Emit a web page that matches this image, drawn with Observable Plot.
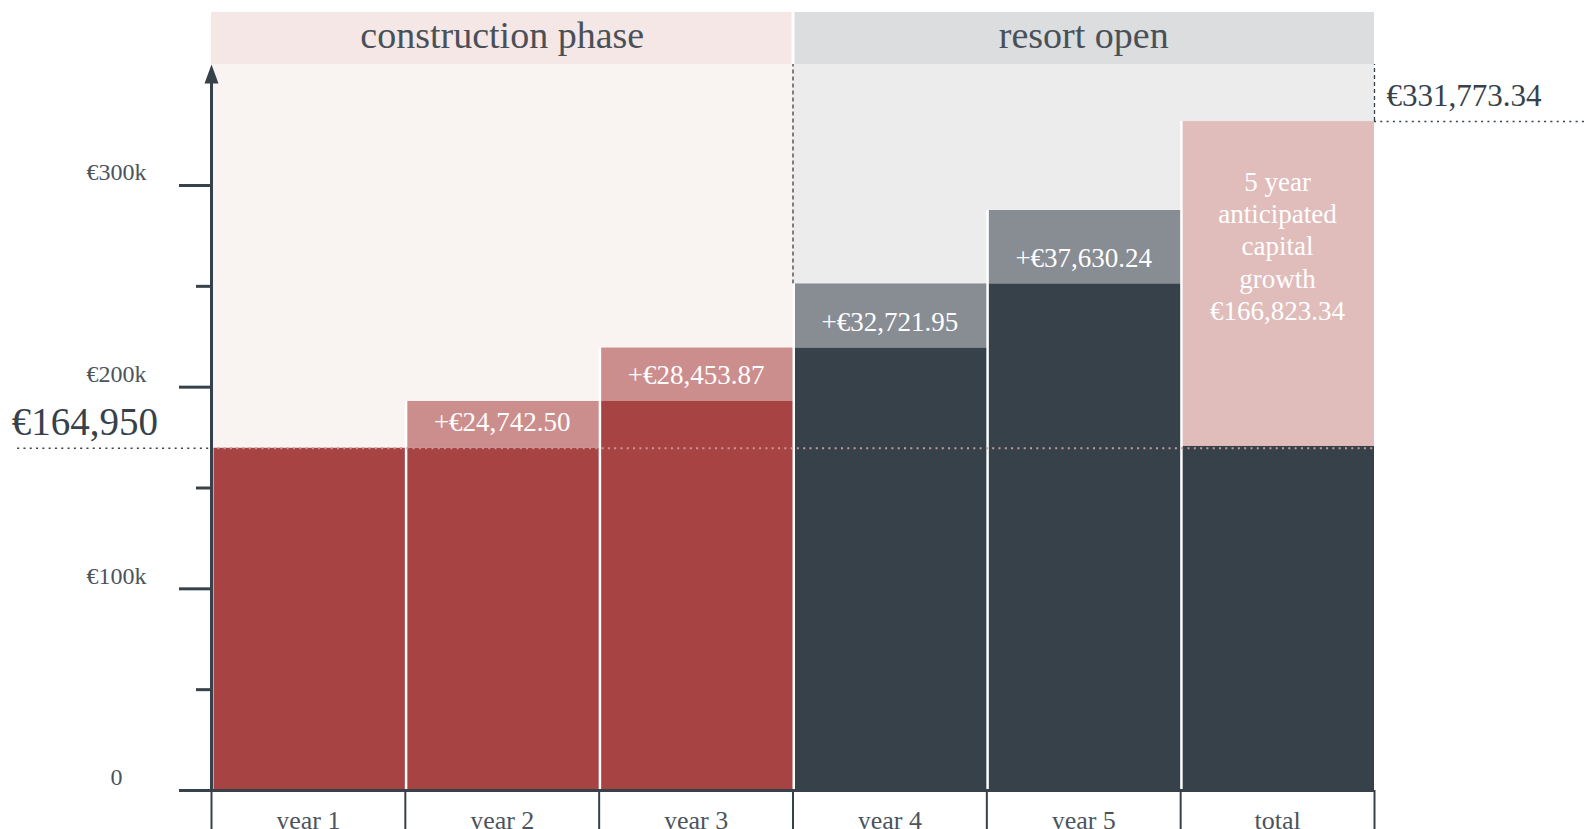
<!DOCTYPE html>
<html>
<head>
<meta charset="utf-8">
<script src="https://cdn.jsdelivr.net/npm/d3@7"></script>
<script src="https://cdn.jsdelivr.net/npm/@observablehq/plot@0.6"></script>
<style>
  html, body { margin: 0; padding: 0; background: #fff; overflow: hidden; }
  #chart svg { display: block; }
</style>
</head>
<body>
<div id="chart"></div>
<script>
// ---- data ----
const categories = ["year 1", "year 2", "year 3", "year 4", "year 5", "total"];
const phaseOf = ["construction", "construction", "construction", "resort", "resort", "resort"];
const barBase = [169700, 169700, 192900, 219400, 251200, 170600]; // top of dark part
const barTop  = [169700, 192900, 219400, 251200, 287600, 331700]; // top of light part
const incrementLabels = ["", "+€24,742.50", "+€28,453.87", "+€32,721.95", "+€37,630.24", ""];
const totalLabel = "5 year\nanticipated\ncapital\ngrowth\n€166,823.34";
const baseLabel = "€164,950";
const totalValueLabel = "€331,773.34";
const phaseNames = ["construction phase", "resort open"];
const phaseKeys = ["construction", "resort"];
const yMajorTicks = [0, 100000, 200000, 300000];
const yMinorTicks = [50000, 150000, 250000];

// ---- colours ----
const C = {
  dark: "#37414a",
  construction: {base: "#a84343", inc: "#cc8e8d", panel: "#f9f4f2", header: "#f4e7e5"},
  resort: {base: "#37414a", inc: "#888c93", panel: "#ebeceb", header: "#dcdddf"},
  totalInc: "#e0bcbb"
};

// ---- derived tables ----
const bars = categories.map((c, i) => ({
  cat: c, i, phase: phaseOf[i], base: barBase[i], top: barTop[i],
  label: incrementLabels[i]
}));
const phases = phaseKeys.map((k, j) => {
  const idx = phaseOf.map((p, i) => p === k ? i : -1).filter(i => i >= 0);
  return {key: k, name: phaseNames[j], x1: d3.min(idx), x2: d3.max(idx) + 1};
});
const yMax = 360000, headerTop = 385800;
const totalBar = bars[5];
const baseValue = barBase[0];

const font = "'Liberation Serif', 'DejaVu Serif', serif";

const chart = Plot.plot({
  width: 1584,
  height: 850,
  marginLeft: 211,
  marginRight: 210,
  marginTop: 64,
  marginBottom: 60,
  x: {domain: [0, categories.length], axis: null},
  y: {domain: [0, yMax], axis: null},
  style: {fontFamily: font, color: C.dark, background: "white", overflow: "visible"},
  marks: [
    // background panels
    Plot.rect(phases, {x1: "x1", x2: "x2", y1: 0, y2: yMax, fill: d => C[d.key].panel}),
    // header bands
    Plot.rect(phases, {x1: "x1", x2: "x2", y1: yMax, y2: headerTop, fill: d => C[d.key].header}),
    Plot.ruleX(phases.slice(1), {x: "x1", y1: yMax, y2: headerTop, stroke: "white", strokeWidth: 3}),
    Plot.text(phases, {x: d => (d.x1 + d.x2) / 2, y: (yMax + headerTop) / 2, text: "name",
      fontSize: 38, fill: "#4a5058", dy: -3}),
    // dashed guides in resort panel
    Plot.ruleX([bars[3]], {x: "i", y1: "top", y2: yMax, stroke: C.dark, strokeWidth: 1.3, strokeDasharray: "4,3"}),
    Plot.ruleX([totalBar], {x: d => d.i + 1, y1: "top", y2: yMax, stroke: C.dark, strokeWidth: 1.3, strokeDasharray: "4,3"}),
    // white separators (full bar height)
    Plot.rect(bars, {x1: "i", x2: d => d.i + 1, y1: 0, y2: "top", fill: "white"}),
    // light increments
    Plot.rect(bars, {x1: "i", x2: d => d.i + 1, y1: "base", y2: "top", insetLeft: 2.5,
      fill: d => d.cat === "total" ? C.totalInc : C[d.phase].inc}),
    // dark bases
    Plot.rect(bars, {x1: "i", x2: d => d.i + 1, y1: 0, y2: "base", insetLeft: 2.5,
      fill: d => C[d.phase].base}),
    // base dotted line
    Plot.ruleY([baseValue], {x1: 0, x2: categories.length, stroke: "#c9999a", strokeWidth: 2, strokeDasharray: "2,4.3"}),
    Plot.ruleY([baseValue], {x1: -1, x2: 0, stroke: C.dark, strokeWidth: 1.6, strokeDasharray: "2,4.3"}),
    Plot.text([baseValue], {x: -1, y: d => d, text: () => baseLabel, textAnchor: "start", dx: -6, dy: -26,
      fontSize: 39, fill: C.dark}),
    // total dotted line & label
    Plot.ruleY([totalBar], {y: "top", x1: categories.length, x2: categories.length + 1.2, stroke: C.dark,
      strokeWidth: 1.6, strokeDasharray: "2,4.3"}),
    Plot.text([totalBar], {x: categories.length, y: "top", text: () => totalValueLabel, textAnchor: "start",
      dx: 12, dy: -25, fontSize: 31, fill: C.dark}),
    // increment labels
    Plot.text(bars.filter(d => d.label), {x: d => d.i + 0.5, y: "base", text: "label", dy: -26,
      fill: "white", fontSize: 27}),
    Plot.text([totalBar], {x: d => d.i + 0.5, y: "top", text: () => totalLabel, lineAnchor: "top",
      dy: 46, lineHeight: 1.2, fill: "white", fontSize: 27}),
    // y axis: ticks
    Plot.axisY(yMajorTicks, {anchor: "left", tickSize: 32, strokeWidth: 3, tickFormat: () => "", label: null}),
    Plot.axisY(yMinorTicks, {anchor: "left", tickSize: 15, strokeWidth: 3, tickFormat: () => "", label: null}),
    // y axis: labels
    Plot.axisY(yMajorTicks, {anchor: "left", tickSize: 0, tickPadding: 95, textAnchor: "middle", dy: -13,
      fontSize: 24, fill: "#4b545d", stroke: "none",
      tickFormat: d => d === 0 ? "0" : "€" + d / 1000 + "k", label: null}),
    Plot.ruleX([0], {x: d => d, y1: 0, y2: 352000, stroke: C.dark, strokeWidth: 3}),
    Plot.vector([0], {x: d => d, y: yMax, shape: "spike", r: 7, length: 19, anchor: "end",
      fill: C.dark, stroke: "none"}),
    // x axis
    Plot.ruleY([0], {x1: 0, x2: categories.length, stroke: C.dark, strokeWidth: 3}),
    Plot.ruleX(d3.range(categories.length + 1), {x: d => d, y1: 0, y2: -22000, stroke: C.dark, strokeWidth: 2}),
    Plot.text(bars, {x: d => d.i + 0.5, y: 0, text: "cat", lineAnchor: "bottom", dy: 38,
      fontSize: 26, fill: "#4b545d"})
  ]
});
document.getElementById("chart").appendChild(chart);
</script>
</body>
</html>
